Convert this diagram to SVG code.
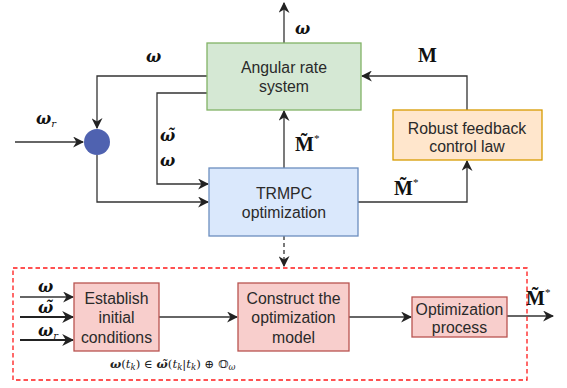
<svg xmlns="http://www.w3.org/2000/svg" width="567" height="388" viewBox="0 0 567 388">
<style>
.box{stroke-width:1.3}
.lbl{font-family:"Liberation Sans",Arial,sans-serif;font-size:15.8px;fill:#2a2a2a;text-anchor:middle}
.m{font-family:"DejaVu Serif","Liberation Serif",serif;font-size:16px;font-weight:bold;font-style:italic;fill:#111}
.mr{font-family:"Liberation Serif","DejaVu Serif",serif;font-size:20px;font-weight:bold;fill:#111}
.ln{fill:none;stroke:#333;stroke-width:1.3}
.ln2{fill:none;stroke:#222;stroke-width:2}
</style>
<defs>
<marker id="ah" viewBox="0 0 10 10" refX="9" refY="5" markerWidth="11" markerHeight="11" markerUnits="userSpaceOnUse" orient="auto">
<path d="M0,0 L10,5 L0,10 L3,5 z" fill="#222"/>
</marker>
<marker id="ah2" viewBox="0 0 10 10" refX="9" refY="5" markerWidth="12" markerHeight="12" markerUnits="userSpaceOnUse" orient="auto">
<path d="M0,0 L10,5 L0,10 L3,5 z" fill="#222"/>
</marker>
</defs>
<g id="connectors">
<path class="ln" d="M284,43 V3" marker-end="url(#ah)"/>
<path class="ln" d="M207,76 H97 V128" marker-end="url(#ah)"/>
<path class="ln" d="M207,93 H157 V184 H208" marker-end="url(#ah)"/>
<path class="ln" d="M15,142 H83" marker-end="url(#ah)"/>
<path class="ln" d="M97,155 V202 H208" marker-end="url(#ah)"/>
<path class="ln" d="M284,168 V111" marker-end="url(#ah)"/>
<path class="ln" d="M358,202 H467 V161" marker-end="url(#ah)"/>
<path class="ln" d="M467,110 V76 H362" marker-end="url(#ah)"/>
<path class="ln" d="M284,236 V266" stroke-dasharray="4,3" marker-end="url(#ah)"/>
<path class="ln" d="M20,297 H73" marker-end="url(#ah)"/>
<path class="ln2" d="M20,317 H73" marker-end="url(#ah2)"/>
<path class="ln2" d="M20,340 H73" marker-end="url(#ah2)"/>
<path class="ln" d="M159,317 H237" marker-end="url(#ah)"/>
<path class="ln" d="M349,317 H411" marker-end="url(#ah)"/>
<path class="ln" d="M507,316 H553" marker-end="url(#ah)"/>
</g>
<rect x="13" y="268" width="514" height="112" fill="none" stroke="#ff1a1a" stroke-width="1.3" stroke-dasharray="4.5,3"/>
<g id="angular">
<rect class="box" x="207" y="43" width="154" height="67" fill="#d5e8d4" stroke="#82b366"/>
<text class="lbl" x="284" y="73">Angular rate</text>
<text class="lbl" x="284" y="92">system</text>
</g>
<g id="trmpc">
<rect class="box" x="209" y="168" width="149" height="68" fill="#dae8fc" stroke="#6c8ebf"/>
<text class="lbl" x="284" y="199">TRMPC</text>
<text class="lbl" x="284" y="218">optimization</text>
</g>
<g id="robust">
<rect class="box" x="393" y="110" width="149" height="50" fill="#ffe6cc" stroke="#d79b00"/>
<text class="lbl" x="467" y="134">Robust feedback</text>
<text class="lbl" x="467" y="152">control law</text>
</g>
<g id="sum">
<circle cx="97" cy="142" r="13" fill="#4f62b0"/>
</g>
<g id="establish">
<rect class="box" x="74" y="283" width="85" height="68" fill="#f8cecc" stroke="#b85450"/>
<text class="lbl" x="116.5" y="304">Establish</text>
<text class="lbl" x="116.5" y="323">initial</text>
<text class="lbl" x="116.5" y="343">conditions</text>
</g>
<g id="construct">
<rect class="box" x="238" y="283" width="111" height="68" fill="#f8cecc" stroke="#b85450"/>
<text class="lbl" x="293.5" y="304">Construct the</text>
<text class="lbl" x="293.5" y="323">optimization</text>
<text class="lbl" x="293.5" y="343">model</text>
</g>
<g id="optproc">
<rect class="box" x="412" y="297" width="95" height="40" fill="#f8cecc" stroke="#b85450"/>
<text class="lbl" x="459.5" y="315">Optimization</text>
<text class="lbl" x="459.5" y="333">process</text>
</g>
<g id="labels">
<text class="m" x="146" y="62">ω</text>
<text class="m" x="295" y="34">ω</text>
<text class="mr" x="418" y="62">M</text>
<text class="m" x="36" y="124">ω<tspan font-size="10" font-weight="normal" dy="3">r</tspan></text>
<text class="m" x="160" y="141">ω̃</text>
<text class="m" x="160" y="166">ω</text>
<text class="mr" x="295" y="151">M̃<tspan font-size="11" font-weight="normal" dy="-9">*</tspan></text>
<text class="mr" x="394" y="195">M̃<tspan font-size="11" font-weight="normal" dy="-9">*</tspan></text>
<text class="mr" x="526" y="305">M̃<tspan font-size="11" font-weight="normal" dy="-9">*</tspan></text>
<text class="m" x="38" y="292">ω</text>
<text class="m" x="38" y="313">ω̃</text>
<text class="m" x="38" y="336">ω<tspan font-size="10" font-weight="normal" dy="3">r</tspan></text>
<text x="110" y="368" font-family="'DejaVu Serif','Liberation Serif',serif" font-size="11.8" fill="#222"><tspan font-weight="bold" font-style="italic">ω</tspan>(<tspan font-style="italic">t</tspan><tspan font-size="8.5" font-style="italic" dy="2">k</tspan><tspan dy="-2">) ∈ </tspan><tspan font-weight="bold" font-style="italic">ω̃</tspan>(<tspan font-style="italic">t</tspan><tspan font-size="8.5" font-style="italic" dy="2">k</tspan><tspan dy="-2">|</tspan><tspan font-style="italic">t</tspan><tspan font-size="8.5" font-style="italic" dy="2">k</tspan><tspan dy="-2">) ⊕ 𝕆</tspan><tspan font-size="8.5" font-style="italic" dy="2">ω</tspan></text>
</g>
</svg>
